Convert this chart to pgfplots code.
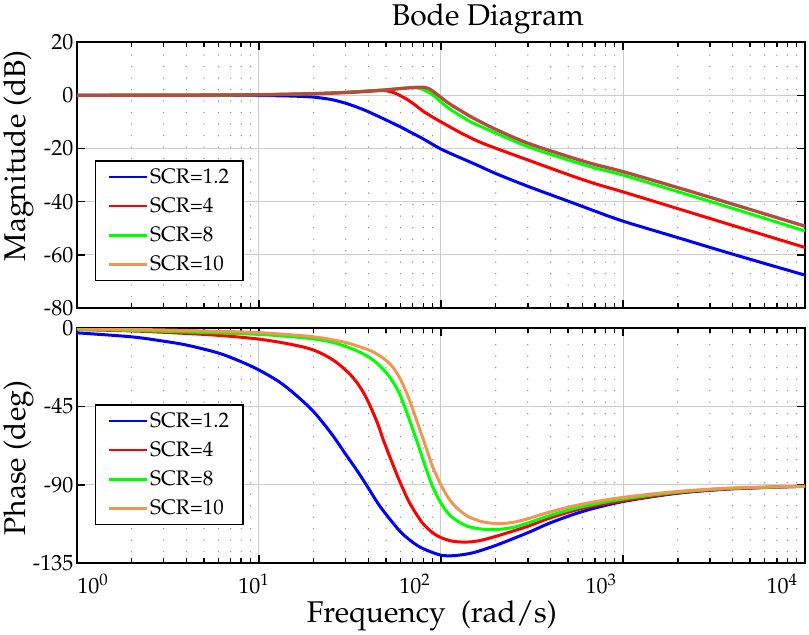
\documentclass[border=0pt]{standalone}
\usepackage[T1]{fontenc}
\usepackage{mathpazo}
\usepackage{pgfplots}
\pgfplotsset{compat=1.18}
\definecolor{cblue}{RGB}{0,0,255}
\definecolor{cred}{RGB}{255,0,0}
\definecolor{cgreen}{RGB}{0,255,0}
\definecolor{corange}{RGB}{240,150,80}
\definecolor{cbrown}{RGB}{180,75,65}
\pgfplotsset{
  major grid style={draw=black!20, line width=0.9pt},
  minor grid style={draw=black!45, line width=1.4pt, dash pattern=on 0pt off 11.5pt, line cap=round},
  every tick/.style={black, line width=1.5pt},
  tick label style={font=\fontsize{22}{26}\selectfont},
  label style={font=\fontsize{30}{36}\selectfont},
  title style={font=\fontsize{30}{36}\selectfont},
  legend image code/.code={\draw[#1, line width=2.5pt] (0pt,0pt) -- (38pt,0pt);},
  every axis plot/.append style={line width=3pt, smooth},
}
\begin{document}
\begin{tikzpicture}
\begin{axis}[name=top, at={(0,0)}, anchor=north west,
  scale only axis, width=728pt, height=266pt, xmode=log, xmin=1, xmax=10000,
  xtick={1,10,100,1000,10000}, xticklabels={},
  minor xtick={2,3,4,5,6,7,8,9,20,30,40,50,60,70,80,90,200,300,400,500,600,700,800,900,2000,3000,4000,5000,6000,7000,8000,9000},
  xmajorgrids, xminorgrids, ymajorgrids,
  tick align=inside, major tick length=8pt, minor tick length=5pt,
  axis line style={line width=2pt},
  clip mode=individual,
  ymin=-80, ymax=20, ytick={-80,-60,-40,-20,0,20}, yticklabels={-80,-60,-40,-20,0,20},
  ylabel={Magnitude (dB)}, ylabel style={at={(axis description cs:-0.10577,0.573)}, anchor=north},
  title={Bode Diagram}, title style={at={(axis description cs:0.5646,1.0414)}, anchor=base},
  legend style={at={(axis description cs:0.0247,0.1015)}, anchor=south west, draw=black, line width=1.5pt, fill=white,
    font=\fontsize{21}{25}\selectfont, inner xsep=12pt, inner ysep=6pt, row sep=9pt, cells={anchor=west}}]
\addplot[cblue] coordinates {(1,0) (3,0) (5,-0.02) (8,-0.05) (10,-0.1) (13,-0.2) (16,-0.35) (20,-0.7) (25,-1.6) (30,-3.0) (35,-4.6) (40,-6.2) (50,-9.3) (60,-11.9) (70,-14.3) (80,-16.4) (100,-20.2) (130,-23.7) (160,-26.4) (200,-29.4) (300,-34.2) (500,-39.8) (700,-43.5) (1000,-47.3) (2000,-53.5) (4000,-59.7) (10000,-67.6)};
\addplot[cred] coordinates {(1,0) (5,0.05) (10,0.2) (15,0.4) (20,0.6) (30,1.1) (40,1.6) (45,1.8) (50,1.7) (55,1.0) (60,-0.2) (65,-1.5) (70,-3.0) (80,-6.0) (90,-8.2) (100,-10.0) (130,-14.3) (160,-17.3) (200,-19.9) (300,-24.3) (500,-29.8) (700,-33.2) (1000,-36.3) (2000,-42.6) (4000,-48.9) (10000,-57.2)};
\addplot[cgreen] coordinates {(1,0) (5,0.05) (10,0.2) (20,0.6) (30,1.1) (40,1.6) (50,2.1) (60,2.6) (70,2.9) (75,2.7) (80,2.1) (85,1.2) (90,0.2) (100,-2.5) (112,-5.2) (133,-8.4) (150,-10.4) (200,-14.2) (300,-19.3) (500,-24.3) (700,-27.3) (1000,-30.0) (2000,-36.2) (4000,-42.5) (10000,-51.0)};
\addplot[cbrown, line width=3.3pt, forget plot] coordinates {(1,0) (5,0.05) (10,0.2) (20,0.6) (30,1.0) (40,1.5) (50,2.0) (60,2.5) (70,2.9) (75,3.0) (80,3.0) (85,2.6) (90,1.6) (100,-0.8) (112,-3.3) (133,-6.4) (150,-8.5) (200,-12.8) (300,-18.0) (500,-23.0) (700,-26.0) (1000,-28.7) (2000,-34.7) (4000,-40.9) (10000,-49.2)};
\addlegendimage{corange}
\legend{SCR=1.2, SCR=4, SCR=8, SCR=10}
\end{axis}
\begin{axis}[name=bot, at={(0,-286pt)}, anchor=north west,
  scale only axis, width=728pt, height=235pt, xmode=log, xmin=1, xmax=10000,
  xtick={1,10,100,1000,10000}, xticklabels={},
  minor xtick={2,3,4,5,6,7,8,9,20,30,40,50,60,70,80,90,200,300,400,500,600,700,800,900,2000,3000,4000,5000,6000,7000,8000,9000},
  xmajorgrids, xminorgrids, ymajorgrids,
  tick align=inside, major tick length=8pt, minor tick length=5pt,
  axis line style={line width=2pt},
  clip mode=individual,
  ymin=-135, ymax=0, ytick={-135,-90,-45,0}, yticklabels={-135,-90,-45,0},
  ylabel={Phase (deg)}, ylabel style={at={(axis description cs:-0.10577,0.447)}, anchor=north},
  xlabel={Frequency~~(rad/s)}, xlabel style={at={(axis description cs:0.4876,-0.2511)}, anchor=base},
  legend style={at={(axis description cs:0.0247,0.162)}, anchor=south west, draw=black, line width=1.5pt, fill=white,
    font=\fontsize{21}{25}\selectfont, inner xsep=12pt, inner ysep=6pt, row sep=9pt, cells={anchor=west}}]
\addplot[cblue] coordinates {(1,-2.7) (2,-5.0) (3,-7.5) (4,-9.7) (6,-14.3) (8,-19.3) (10,-24) (13,-31) (16,-38.5) (20,-48) (25,-60.5) (30,-72.5) (35,-82.5) (40,-92) (45,-100.5) (50,-107) (60,-117) (70,-123) (80,-126.7) (100,-130.4) (120,-130.6) (150,-129) (200,-124.8) (300,-117.5) (400,-111.8) (600,-105.3) (1000,-99.6) (2000,-94.8) (4000,-92.3) (10000,-90.8)};
\addplot[cred] coordinates {(1,-0.8) (2,-1.6) (3,-2.4) (5,-3.6) (7,-4.7) (10,-6.3) (13,-8.1) (17,-10.5) (20,-12.6) (23,-15.5) (26,-18.8) (29,-22.8) (32,-27) (35,-32) (38,-38) (41,-45) (45,-55) (48,-63.5) (52,-73) (57,-83.5) (62,-92.5) (67,-100) (73,-106.5) (80,-112.5) (90,-117.5) (100,-120.3) (115,-122.3) (135,-122.9) (160,-122.2) (200,-119.6) (300,-113.8) (400,-108.9) (600,-103.5) (1000,-99.2) (2000,-94.6) (4000,-92.2) (10000,-90.8)};
\addplot[cgreen] coordinates {(1,-0.6) (2.5,-1.6) (5,-2.5) (10,-3.6) (15,-4.9) (20,-6.2) (25,-8) (30,-10.5) (35,-13.3) (40,-16.5) (45,-20.5) (50,-25.5) (55,-31.5) (60,-39) (65,-48.5) (70,-58) (75,-67) (80,-76) (85,-84) (90,-91) (100,-100.5) (110,-106.5) (120,-110) (140,-113.8) (170,-115.5) (210,-115.5) (250,-114.4) (300,-112) (400,-107.5) (600,-102.5) (1000,-98.2) (2000,-94.2) (4000,-92) (10000,-90.8)};
\addplot[corange] coordinates {(1,-0.4) (2.5,-0.9) (5,-1.6) (10,-2.6) (20,-5) (30,-8.3) (40,-12.5) (45,-15.2) (50,-18.5) (55,-23) (60,-29.5) (65,-37.5) (70,-46.5) (75,-55.5) (80,-64) (85,-72) (90,-79.5) (100,-90) (110,-97.5) (120,-102.5) (140,-108) (170,-111.3) (210,-112.3) (250,-111.5) (300,-109.5) (400,-105.5) (600,-101) (1000,-97.2) (2000,-93.8) (4000,-91.8) (10000,-90.8)};
\legend{SCR=1.2, SCR=4, SCR=8, SCR=10}
\node[anchor=base, font=\fontsize{22}{26}\selectfont] at (axis description cs:0.0220,-0.1277) {$10^{0}$};
\node[anchor=base, font=\fontsize{22}{26}\selectfont] at (axis description cs:0.2431,-0.1277) {$10^{1}$};
\node[anchor=base, font=\fontsize{22}{26}\selectfont] at (axis description cs:0.4643,-0.1277) {$10^{2}$};
\node[anchor=base, font=\fontsize{22}{26}\selectfont] at (axis description cs:0.7198,-0.1277) {$10^{3}$};
\node[anchor=base, font=\fontsize{22}{26}\selectfont] at (axis description cs:0.9684,-0.1277) {$10^{4}$};
\end{axis}
\path ([xshift=4pt]bot.south east);
\end{tikzpicture}
\end{document}
